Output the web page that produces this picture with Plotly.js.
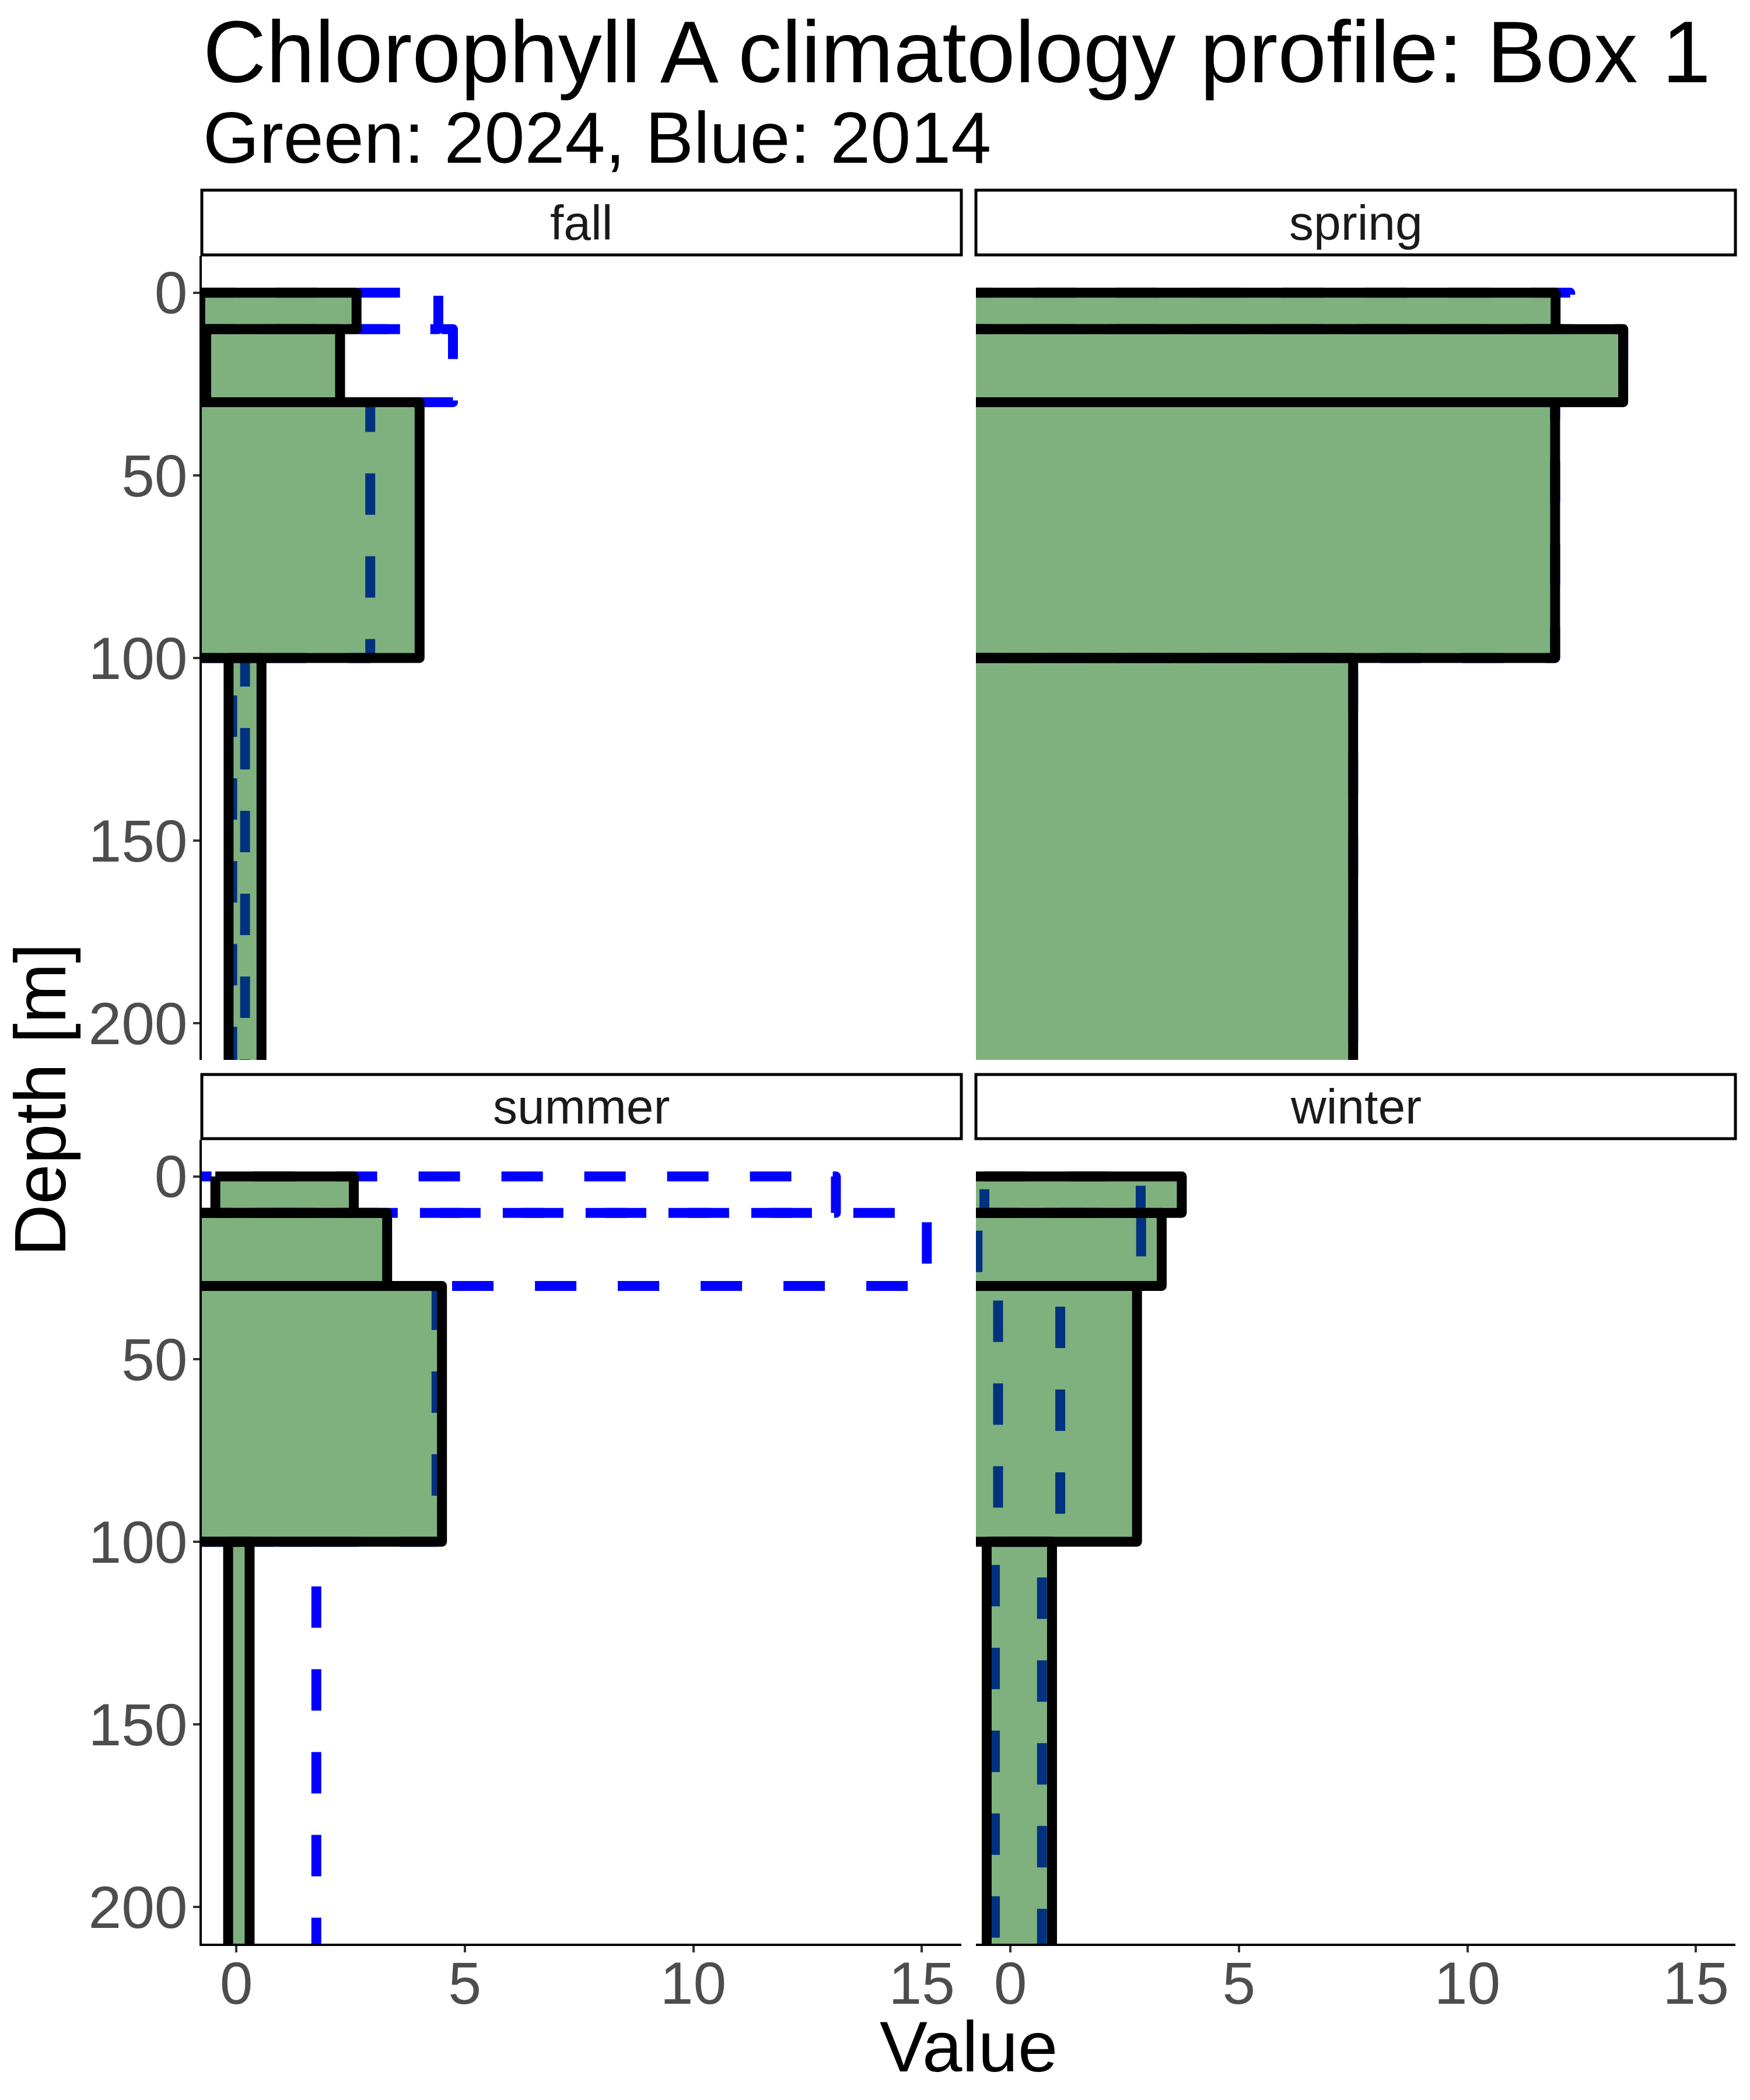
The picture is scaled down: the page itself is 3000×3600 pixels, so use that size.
<!DOCTYPE html>
<html>
<head>
<meta charset="utf-8">
<script src="https://cdn.plot.ly/plotly-3.0.1.min.js"></script>
<style>
  body { margin: 0; background: #ffffff; }
  #chart { width: 3000px; height: 3600px; }
  .js-line { stroke-linejoin: round; }
</style>
</head>
<body>
<div id="chart"></div>
<script>
// ---------------- DATA ----------------
const seasons = ["fall", "spring", "summer", "winter"];
const depthTop = [0, 10, 30, 100];
const depthBottom = [10, 30, 100, 300];
const depthLimits = [0, 200];
const depthTicks = [0, 50, 100, 150, 200];
const valueTicks = [0, 5, 10, 15];

// Green: 2024 (left / right edge of each depth layer)
const fall2024Min = [-0.79, -0.66, -1.10, -0.17];
const fall2024Max = [2.63, 2.27, 4.01, 0.55];
const spring2024Min = [-1.20, -1.40, -1.20, -1.00];
const spring2024Max = [11.93, 13.41, 11.92, 7.50];
const summer2024Min = [-0.46, -0.88, -1.10, -0.18];
const summer2024Max = [2.57, 3.30, 4.50, 0.29];
const winter2024Min = [-1.00, -1.00, -1.00, -0.52];
const winter2024Max = [3.75, 3.31, 2.77, 0.91];

// Blue: 2014
const fall2014Min = [-0.95, -0.95, -0.95, -0.09];
const fall2014Max = [4.42, 4.74, 2.93, 0.19];
const spring2014Min = [-1.30, -1.30, -1.30, -1.30];
const spring2014Max = [12.25, 13.41, 11.92, 7.50];
const summer2014Min = [-1.45, -1.00, -1.00, -0.90];
const summer2014Max = [13.12, 15.11, 4.38, 1.75];
const winter2014Min = [-0.57, -0.72, -0.27, -0.34];
const winter2014Max = [2.85, 2.86, 1.09, 0.69];

const titleText = "Chlorophyll A climatology profile: Box 1";
const subtitleText = "Green: 2024, Blue: 2014";
const xTitle = "Value";
const yTitle = "Depth [m]";

// ---------------- BUILD ----------------
const data2024 = {
  fall: [fall2024Min, fall2024Max], spring: [spring2024Min, spring2024Max],
  summer: [summer2024Min, summer2024Max], winter: [winter2024Min, winter2024Max]
};
const data2014 = {
  fall: [fall2014Min, fall2014Max], spring: [spring2014Min, spring2014Max],
  summer: [summer2014Min, summer2014Max], winter: [winter2014Min, winter2014Max]
};

function rects(mins, maxs) {
  const x = [], y = [];
  for (let i = 0; i < mins.length; i++) {
    if (mins[i] === null || maxs[i] === null) continue;
    x.push(mins[i], maxs[i], maxs[i], mins[i], mins[i], null);
    y.push(depthTop[i], depthTop[i], depthBottom[i], depthBottom[i], depthTop[i], null);
  }
  return { x, y };
}

const allMax = [].concat(fall2024Max, spring2024Max, summer2024Max, winter2024Max,
                         fall2014Max, spring2014Max, summer2014Max, winter2014Max);
const xMax = Math.max(...allMax);
const xRange = [-0.05 * xMax, xMax * 1.05];
const ySpan = depthLimits[1] - depthLimits[0];
const yRange = [depthLimits[1] + 0.05 * ySpan, depthLimits[0] - 0.05 * ySpan];

const W = 3000, H = 3600;
const colDom = [[346 / W, 1648 / W], [1673 / W, 2975 / W]];
const rowDom = [[1 - 1817 / H, 1 - 439 / H], [1 - 3332 / H, 1 - 1954 / H]];
const strips = [[326, 437], [1842, 1952]];

const traces = [];
seasons.forEach((s, k) => {
  const ax = k === 0 ? "" : String(k + 1);
  const b = rects(data2014[s][0], data2014[s][1]);
  traces.push({
    type: "scatter", mode: "lines", x: b.x, y: b.y,
    xaxis: "x" + ax, yaxis: "y" + ax, fill: "none",
    line: { color: "#0000FF", width: 17, dash: "71px,71px" },
    hoverinfo: "skip", showlegend: false
  });
  const g = rects(data2024[s][0], data2024[s][1]);
  traces.push({
    type: "scatter", mode: "lines", x: g.x, y: g.y,
    xaxis: "x" + ax, yaxis: "y" + ax, fill: "toself",
    fillcolor: "rgba(0,100,0,0.5)",
    line: { color: "#000000", width: 17 },
    hoverinfo: "skip", showlegend: false
  });
});

const font = "Liberation Sans, Arial, sans-serif";
const tickFont = { family: font, size: 102, color: "#4D4D4D" };

function xAxis(col, row, bottom) {
  return {
    domain: colDom[col], range: xRange, showgrid: false, zeroline: false,
    showline: bottom, linecolor: "#000000", linewidth: 4,
    ticks: bottom ? "outside" : "", ticklen: 11, tickwidth: 4, tickcolor: "#333333",
    tickvals: valueTicks, showticklabels: bottom, tickfont: tickFont,
    ticklabelstandoff: -34
  };
}
function yAxis(col, row, left) {
  return {
    domain: rowDom[row], range: yRange, showgrid: false, zeroline: false,
    showline: left, linecolor: "#000000", linewidth: 4,
    ticks: left ? "outside" : "", ticklen: 11, tickwidth: 4, tickcolor: "#333333",
    tickvals: depthTicks, showticklabels: left, tickfont: tickFont,
    ticklabelstandoff: -11
  };
}

const shapes = [];
const annotations = [];
seasons.forEach((s, k) => {
  const col = k % 2, row = Math.floor(k / 2);
  const st = strips[row];
  shapes.push({
    type: "rect", xref: "paper", yref: "paper",
    x0: colDom[col][0], x1: colDom[col][1], y0: 1 - st[1] / H, y1: 1 - st[0] / H,
    line: { color: "#000000", width: 5 }, fillcolor: "#FFFFFF", layer: "above"
  });
  annotations.push({
    xref: "paper", yref: "paper", x: (colDom[col][0] + colDom[col][1]) / 2,
    y: 1 - (st[0] + st[1]) / 2 / H, xanchor: "center", yanchor: "middle",
    text: s, showarrow: false, font: { family: font, size: 84, color: "#1A1A1A" }
  });
});

annotations.push({
  xref: "paper", yref: "paper", x: 346 / W, y: 1 - 89 / H, xanchor: "left", yanchor: "middle",
  text: titleText, showarrow: false, font: { family: font, size: 150, color: "#000000" }
});
annotations.push({
  xref: "paper", yref: "paper", x: 346 / W, y: 1 - 236 / H, xanchor: "left", yanchor: "middle",
  text: subtitleText, showarrow: false, font: { family: font, size: 124, color: "#000000" }
});
annotations.push({
  xref: "paper", yref: "paper", x: (colDom[0][0] + colDom[1][1]) / 2, y: 1 - 3508 / H,
  xanchor: "center", yanchor: "middle",
  text: xTitle, showarrow: false, font: { family: font, size: 123, color: "#000000" }
});
annotations.push({
  xref: "paper", yref: "paper", x: 69 / W, y: 1 - 1885 / H,
  xanchor: "center", yanchor: "middle", textangle: -90,
  text: yTitle, showarrow: false, font: { family: font, size: 124, color: "#000000" }
});

const layout = {
  width: W, height: H,
  margin: { l: 0, r: 0, t: 0, b: 0, pad: 0 },
  paper_bgcolor: "#FFFFFF", plot_bgcolor: "#FFFFFF",
  showlegend: false,
  xaxis: Object.assign(xAxis(0, 0, false), { anchor: "y" }),
  yaxis: Object.assign(yAxis(0, 0, true), { anchor: "x" }),
  xaxis2: Object.assign(xAxis(1, 0, false), { anchor: "y2" }),
  yaxis2: Object.assign(yAxis(1, 0, false), { anchor: "x2" }),
  xaxis3: Object.assign(xAxis(0, 1, true), { anchor: "y3" }),
  yaxis3: Object.assign(yAxis(0, 1, true), { anchor: "x3" }),
  xaxis4: Object.assign(xAxis(1, 1, true), { anchor: "y4" }),
  yaxis4: Object.assign(yAxis(1, 1, false), { anchor: "x4" }),
  shapes: shapes,
  annotations: annotations,
  font: { family: font }
};

Plotly.newPlot("chart", traces, layout, { staticPlot: true, displayModeBar: false });
</script>
</body>
</html>
